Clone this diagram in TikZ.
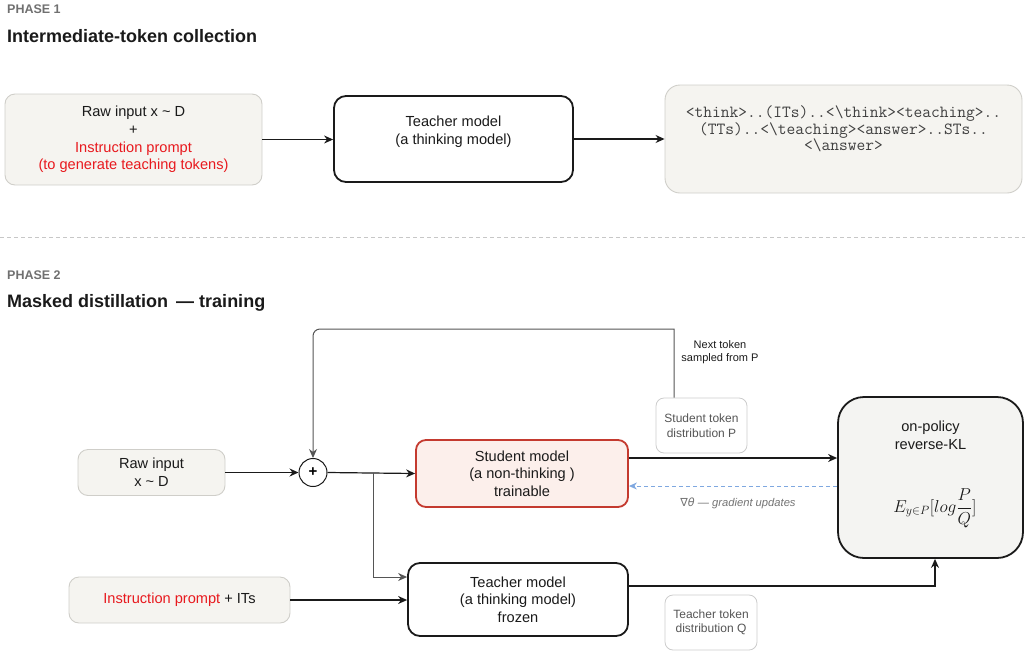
\documentclass[tikz,border=0pt]{standalone}
\usepackage{fontspec}
\setmainfont{Liberation Sans}
\newfontfamily\dejavu{DejaVu Sans}
\usetikzlibrary{arrows.meta,calc}
\definecolor{beige}{HTML}{F5F4F0}
\definecolor{beigeline}{HTML}{CFCEC9}
\definecolor{klfill}{HTML}{F4F4F2}
\definecolor{stfill}{HTML}{FCEFEB}
\definecolor{stline}{HTML}{C43A2F}
\definecolor{redtxt}{HTML}{E8191E}
\definecolor{ink}{HTML}{1A1A1A}
\definecolor{greyline}{HTML}{555555}
\definecolor{greytxt}{HTML}{555555}
\definecolor{lightbox}{HTML}{CCCCCC}
\definecolor{gradblue}{HTML}{7FA8E0}
\definecolor{phasegrey}{HTML}{707070}
\tikzset{
  box/.style={rectangle, inner sep=0pt, align=center, text=ink},
  beigebox/.style={box, fill=beige, draw=beigeline, line width=0.9pt, rounded corners=10pt},
  boldbox/.style={box, fill=white, draw=ink, line width=1.8pt, rounded corners=12pt},
  klbox/.style={box, fill=klfill, draw=ink, line width=1.8pt, rounded corners=26pt},
  stbox/.style={box, fill=stfill, draw=stline, line width=1.8pt, rounded corners=10pt},
  smallbox/.style={box, fill=white, draw=lightbox, line width=0.8pt, rounded corners=8pt, text=greytxt, font=\fontsize{12}{14.5}\selectfont},
  txt/.style={inner sep=0pt, align=center, text=ink},
  maintxt/.style={font=\fontsize{14.6}{17.7}\selectfont},
  arr/.style={draw=ink, line width=1.2pt, -{Stealth[length=9pt,width=8pt]}},
  garr/.style={draw=greyline, line width=1pt, -{Stealth[length=9pt,width=8pt]}},
}
\begin{document}
\begin{tikzpicture}[x=1pt,y=-1pt]
\useasboundingbox (0,0) rectangle (1025,651);

% ---------- Phase 1 ----------
\node[anchor=base west, inner sep=0pt, text=phasegrey, font=\fontsize{12.5}{15}\selectfont\bfseries] (ph1) at (7,13) {PHASE 1};
\node[anchor=base west, inner sep=0pt, text=ink, font=\fontsize{18}{21}\selectfont\bfseries] (ti1) at (7,42) {Intermediate-token collection};

\node[beigebox, maintxt, minimum width=257pt, minimum height=91pt] (in1) at (133.5,139.5)
  {Raw input x \textasciitilde{} D\\+\\\textcolor{redtxt}{Instruction prompt}\\\textcolor{redtxt}{(to generate teaching tokens)}};
\node[boldbox, minimum width=239pt, minimum height=86pt] (tm1) at (453.5,139) {};
\node[txt, font=\fontsize{14.6}{18}\selectfont] (tm1t) at (453.5,132) {Teacher model\\(a thinking model)};
\node[beigebox, minimum width=357pt, minimum height=108pt, rounded corners=15pt] (out1) at (843.5,139) {};
\node[txt, font=\fontsize{17}{15}\ttfamily, text=black!75] (out1t) at (843.5,129)
  {<think>..(ITs)..<\textbackslash think><teaching>..\\(TTs)..<\textbackslash teaching><answer>..STs..\\<\textbackslash answer>};

\draw[arr] (in1.east) -- (tm1.west |- in1.east);
\draw[arr] (tm1.east) -- (out1.west |- tm1.east);

% separator
\coordinate (sepL) at (0,237);
\coordinate (sepR) at (1025,237);
\draw[draw=black!22, line width=1pt, dash pattern=on 4pt off 3pt] (sepL) -- (sepR);

% ---------- Phase 2 ----------
\node[anchor=base west, inner sep=0pt, text=phasegrey, font=\fontsize{12.5}{15}\selectfont\bfseries] (ph2) at (7,279) {PHASE 2};
\node[anchor=base west, inner sep=0pt, text=ink, font=\fontsize{18}{21}\selectfont\bfseries] (ti2) at (7,307) {Masked distillation \,— training};

\node[beigebox, maintxt, minimum width=147pt, minimum height=46pt] (raw) at (151.5,472.5) {Raw input\\x \textasciitilde{} D};
\node[circle, draw=ink, line width=1pt, fill=white, minimum size=28pt, inner sep=0pt, font=\fontsize{15}{15}\selectfont\bfseries] (plus) at (313,472.5) {+};
\node[stbox, maintxt, minimum width=212pt, minimum height=67pt] (st) at (522,473.5) {Student model\\(a non-thinking )\\trainable};
\node[boldbox, maintxt, minimum width=220pt, minimum height=73pt] (t2) at (518,599.5) {Teacher model\\(a thinking model)\\frozen};
\node[beigebox, maintxt, minimum width=221pt, minimum height=46pt] (ins) at (179.5,600) {\textcolor{redtxt}{Instruction prompt} + ITs};
\node[klbox, minimum width=185pt, minimum height=161pt] (kl) at (930.5,477.5) {};
\node[txt, maintxt] (klt) at (930.5,435.5) {on-policy\\reverse-KL};
\node[txt, font=\fontsize{16.5}{19}\selectfont] (klf) at (935,508) {$\displaystyle E_{y\in P}[log\frac{P}{Q}]$};
\node[smallbox, minimum width=91pt, minimum height=55pt] (sP) at (701.5,425.5) {Student token\\distribution P};
\node[smallbox, minimum width=92pt, minimum height=55pt] (tQ) at (711,622.5) {Teacher token\\distribution Q};
\node[txt, font=\fontsize{11}{13}\selectfont] (nxt) at (720,352.5) {Next token\\sampled from P};
\node[txt, text=black!55, font=\fontsize{11.2}{13}\selectfont\itshape] (grad) at (738,503) {{\dejavu\itshape ∇θ} — gradient updates};

% connectors
\coordinate (fbtop) at (674,329);
\coordinate (fbleft) at (313,329);
\draw[garr] ([xshift=-27.5pt]sP.north) -- (fbtop) {[rounded corners=7pt] -- (fbleft) -- (plus.north)};
\draw[arr] (raw.east) -- (plus.west);
\draw[arr] (plus.east) -- (st.west);
\coordinate (br) at (373,473);
\draw[garr] (br) |- ([yshift=22.5pt]t2.west);
\draw[arr] (ins.east) -- (ins.east -| t2.west);
\draw[arr] ([yshift=15.5pt]st.east) -- ([yshift=15.5pt]st.east -| kl.west);
\draw[draw=gradblue, line width=1pt, dash pattern=on 4pt off 3pt, -{Stealth[length=8pt,width=7pt]}] ([yshift=-8.5pt]kl.west) -- ([yshift=-8.5pt]kl.west -| st.east);
\draw[arr] ([yshift=13.5pt]t2.east) -| ([xshift=4.5pt]kl.south);
\end{tikzpicture}
\end{document}
